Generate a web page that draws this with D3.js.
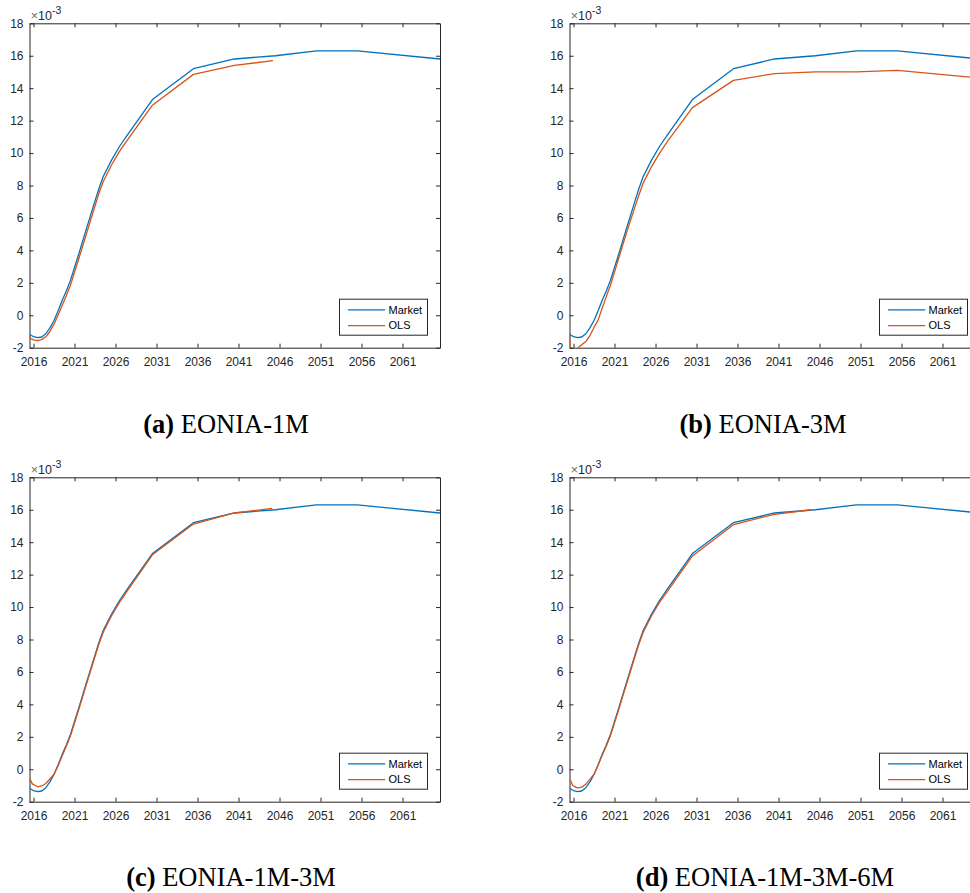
<!DOCTYPE html>
<html>
<head>
<meta charset="utf-8">
<script src="https://cdn.jsdelivr.net/npm/d3@7"></script>
<style>
  html, body { margin: 0; padding: 0; background: #ffffff; overflow: hidden; }
  svg { display: block; }
</style>
</head>
<body>
<svg id="fig" width="970" height="893"></svg>
<script>
// Forward curves, rates in units of 1e-3, dates as fractional years.
const marketDates = [2015.51, 2015.75, 2016.0, 2016.5, 2017.0, 2017.5, 2018.0, 2018.5, 2019.0, 2019.5,
  2020.0, 2020.5, 2021.5, 2022.5, 2023.5, 2024.0, 2024.5, 2025.5, 2026.5, 2027.5, 2030.5, 2035.5, 2040.5,
  2045.5, 2050.5, 2055.5, 2065.57];
const marketRates = [-1.17, -1.25, -1.32, -1.38, -1.34, -1.14, -0.78, -0.32, 0.28, 0.92,
  1.5, 2.15, 3.75, 5.42, 7.05, 7.85, 8.55, 9.55, 10.42, 11.15, 13.3, 15.2, 15.8,
  16.0, 16.3, 16.3, 15.8];

// OLS fit, EONIA-1M
const olsADates = [2015.51, 2015.6, 2016.0, 2016.5, 2017.0, 2017.5, 2018.0, 2018.5, 2019.0, 2019.5,
  2020.0, 2020.5, 2021.5, 2022.5, 2023.5, 2024.0, 2024.5, 2025.5, 2026.5, 2027.5, 2030.5, 2035.5, 2040.5, 2045.2];
const olsARates = [-1.28, -1.42, -1.52, -1.56, -1.5, -1.33, -1.0, -0.55, 0.02, 0.62,
  1.2, 1.85, 3.45, 5.1, 6.75, 7.55, 8.25, 9.25, 10.12, 10.85, 12.95, 14.85, 15.4, 15.7];

// OLS fit, EONIA-3M
const olsBDates = [2015.51, 2015.6, 2016.5, 2017.5, 2018.0, 2018.5, 2019.0, 2019.5, 2020.0, 2020.5,
  2021.5, 2022.5, 2023.5, 2024.0, 2024.5, 2025.5, 2026.5, 2027.5, 2030.5, 2035.5, 2040.5, 2045.5, 2050.5,
  2055.5, 2065.57];
const olsBRates = [-1.2, -2.5, -2.02, -1.62, -1.25, -0.75, -0.3, 0.45, 1.15, 1.85,
  3.5, 5.15, 6.7, 7.45, 8.15, 9.15, 10.0, 10.75, 12.8, 14.48, 14.9, 15.0, 15.0,
  15.1, 14.62];

// OLS fit, EONIA-1M-3M
const olsCDates = [2015.51, 2015.58, 2015.85, 2016.5, 2017.0, 2017.5, 2018.0, 2018.5, 2019.0, 2019.5,
  2020.0, 2020.5, 2021.5, 2022.5, 2023.5, 2024.0, 2024.5, 2025.5, 2026.5, 2027.5, 2030.5, 2035.5, 2040.5, 2045.1];
const olsCRates = [-0.7, -0.6, -0.9, -1.08, -1.03, -0.88, -0.6, -0.3, 0.22, 0.84,
  1.42, 2.05, 3.65, 5.32, 6.95, 7.75, 8.45, 9.45, 10.3, 11.05, 13.22, 15.12, 15.8, 16.08];

// OLS fit, EONIA-1M-3M-6M
const olsDDates = [2015.51, 2015.56, 2015.9, 2016.45, 2017.0, 2017.5, 2018.0, 2018.5, 2019.0, 2019.5,
  2020.0, 2020.5, 2021.5, 2022.5, 2023.5, 2024.0, 2024.5, 2025.5, 2026.5, 2027.5, 2030.5, 2035.5, 2040.5, 2045.0];
const olsDRates = [-0.75, -0.62, -1.0, -1.15, -1.1, -0.92, -0.62, -0.3, 0.24, 0.86,
  1.44, 2.07, 3.66, 5.32, 6.95, 7.75, 8.45, 9.45, 10.3, 11.0, 13.15, 15.08, 15.72, 16.0];

const xTickYears = [2016, 2021, 2026, 2031, 2036, 2041, 2046, 2051, 2056, 2061];
const yTickValues = [-2, 0, 2, 4, 6, 8, 10, 12, 14, 16, 18];
const seriesNames = ["Market", "OLS"];
const seriesColors = ["#0072BD", "#D95319"];
const captionTags = ["(a)", "(b)", "(c)", "(d)"];
const captionTexts = ["EONIA-1M", "EONIA-3M", "EONIA-1M-3M", "EONIA-1M-3M-6M"];

const xDomain = [2015.51, 2065.57];
const yDomain = [-2, 18];

const zip = (xs, ys) => xs.map((v, i) => [v, ys[i]]);
const olsSets = [
  zip(olsADates, olsARates),
  zip(olsBDates, olsBRates),
  zip(olsCDates, olsCRates),
  zip(olsDDates, olsDRates)
];
const market = zip(marketDates, marketRates);

// Panel geometry
const panelW = 410.5, panelH = 324.4;
const layout = [
  { left: 29.5, top: 23.3, capX: 226, capY: 433 },
  { left: 569.5, top: 23.3, capX: 763, capY: 433 },
  { left: 29.5, top: 477.3, capX: 231, capY: 886 },
  { left: 569.5, top: 477.3, capX: 765, capY: 886 }
];

const axisColor = "#262626";
const svg = d3.select("#fig");

layout.forEach((p, i) => {
  const g = svg.append("g").attr("transform", `translate(${p.left},${p.top})`);
  const x = d3.scaleLinear().domain(xDomain).range([0, panelW]);
  const y = d3.scaleLinear().domain(yDomain).range([panelH, 0]);

  const clipId = `clip-${i}`;
  g.append("clipPath").attr("id", clipId)
    .append("rect").attr("x", 0).attr("y", 0).attr("width", panelW).attr("height", panelH);

  // Box axes with inward ticks
  const styleAxis = sel => {
    sel.selectAll("path.domain").attr("stroke", axisColor).attr("stroke-width", 1);
    sel.selectAll(".tick line").attr("stroke", axisColor).attr("stroke-width", 1);
    sel.selectAll(".tick text").attr("fill", axisColor)
      .style("font-family", "'Liberation Sans', Arial, sans-serif").style("font-size", "12px");
  };

  g.append("g").attr("transform", `translate(0,${panelH})`)
    .call(d3.axisBottom(x).tickValues(xTickYears).tickFormat(d3.format("d"))
      .tickSize(-4).tickSizeOuter(0).tickPadding(10))
    .call(styleAxis);
  g.append("g")
    .call(d3.axisTop(x).tickValues(xTickYears).tickFormat("")
      .tickSize(-4).tickSizeOuter(0))
    .call(styleAxis);
  g.append("g")
    .call(d3.axisLeft(y).tickValues(yTickValues).tickFormat(d => String(d))
      .tickSize(-4).tickSizeOuter(0).tickPadding(6))
    .call(styleAxis);
  g.append("g").attr("transform", `translate(${panelW},0)`)
    .call(d3.axisRight(y).tickValues(yTickValues).tickFormat("")
      .tickSize(-4).tickSizeOuter(0))
    .call(styleAxis);

  // Exponent label
  const ex = g.append("text").attr("x", 1.2).attr("y", -3.4)
    .attr("fill", axisColor)
    .style("font-family", "'Liberation Sans', Arial, sans-serif").style("font-size", "12.5px");
  ex.append("tspan").attr("fill", "#6b6b6b").text("\u00d7");
  ex.append("tspan").text("10");
  ex.append("tspan").attr("dy", -6).style("font-size", "10.5px").text("-3");

  // Curves
  const line = d3.line().x(d => x(d[0])).y(d => y(d[1]));
  const plot = g.append("g").attr("clip-path", `url(#${clipId})`);
  [market, olsSets[i]].forEach((data, k) => {
    plot.append("path").datum(data)
      .attr("d", line)
      .attr("fill", "none")
      .attr("stroke", seriesColors[k])
      .attr("stroke-width", 1.3)
      .attr("stroke-linejoin", "round");
  });

  // Legend
  const lw = 88, lh = 36;
  const lg = g.append("g").attr("transform", `translate(${panelW - 12.5 - lw},${panelH - 12.5 - lh})`);
  lg.append("rect").attr("width", lw).attr("height", lh)
    .attr("fill", "#ffffff").attr("stroke", axisColor).attr("stroke-width", 1);
  seriesNames.forEach((name, k) => {
    const yy = 10.7 + k * 15.7;
    lg.append("line").attr("x1", 8.4).attr("x2", 45.7).attr("y1", yy).attr("y2", yy)
      .attr("stroke", seriesColors[k]).attr("stroke-width", 1.3);
    lg.append("text").attr("x", 49).attr("y", yy).attr("dy", "0.35em")
      .attr("fill", "#000000")
      .style("font-family", "'Liberation Sans', Arial, sans-serif").style("font-size", "11px")
      .text(name);
  });

  // Sub-caption
  const cap = svg.append("text").attr("x", p.capX).attr("y", p.capY)
    .attr("text-anchor", "middle").attr("fill", "#000000")
    .style("font-family", "'Liberation Serif', 'Times New Roman', serif").style("font-size", "26.5px");
  cap.append("tspan").style("font-weight", "bold").text(captionTags[i]);
  cap.append("tspan").text(" " + captionTexts[i]);
});
</script>
</body>
</html>
